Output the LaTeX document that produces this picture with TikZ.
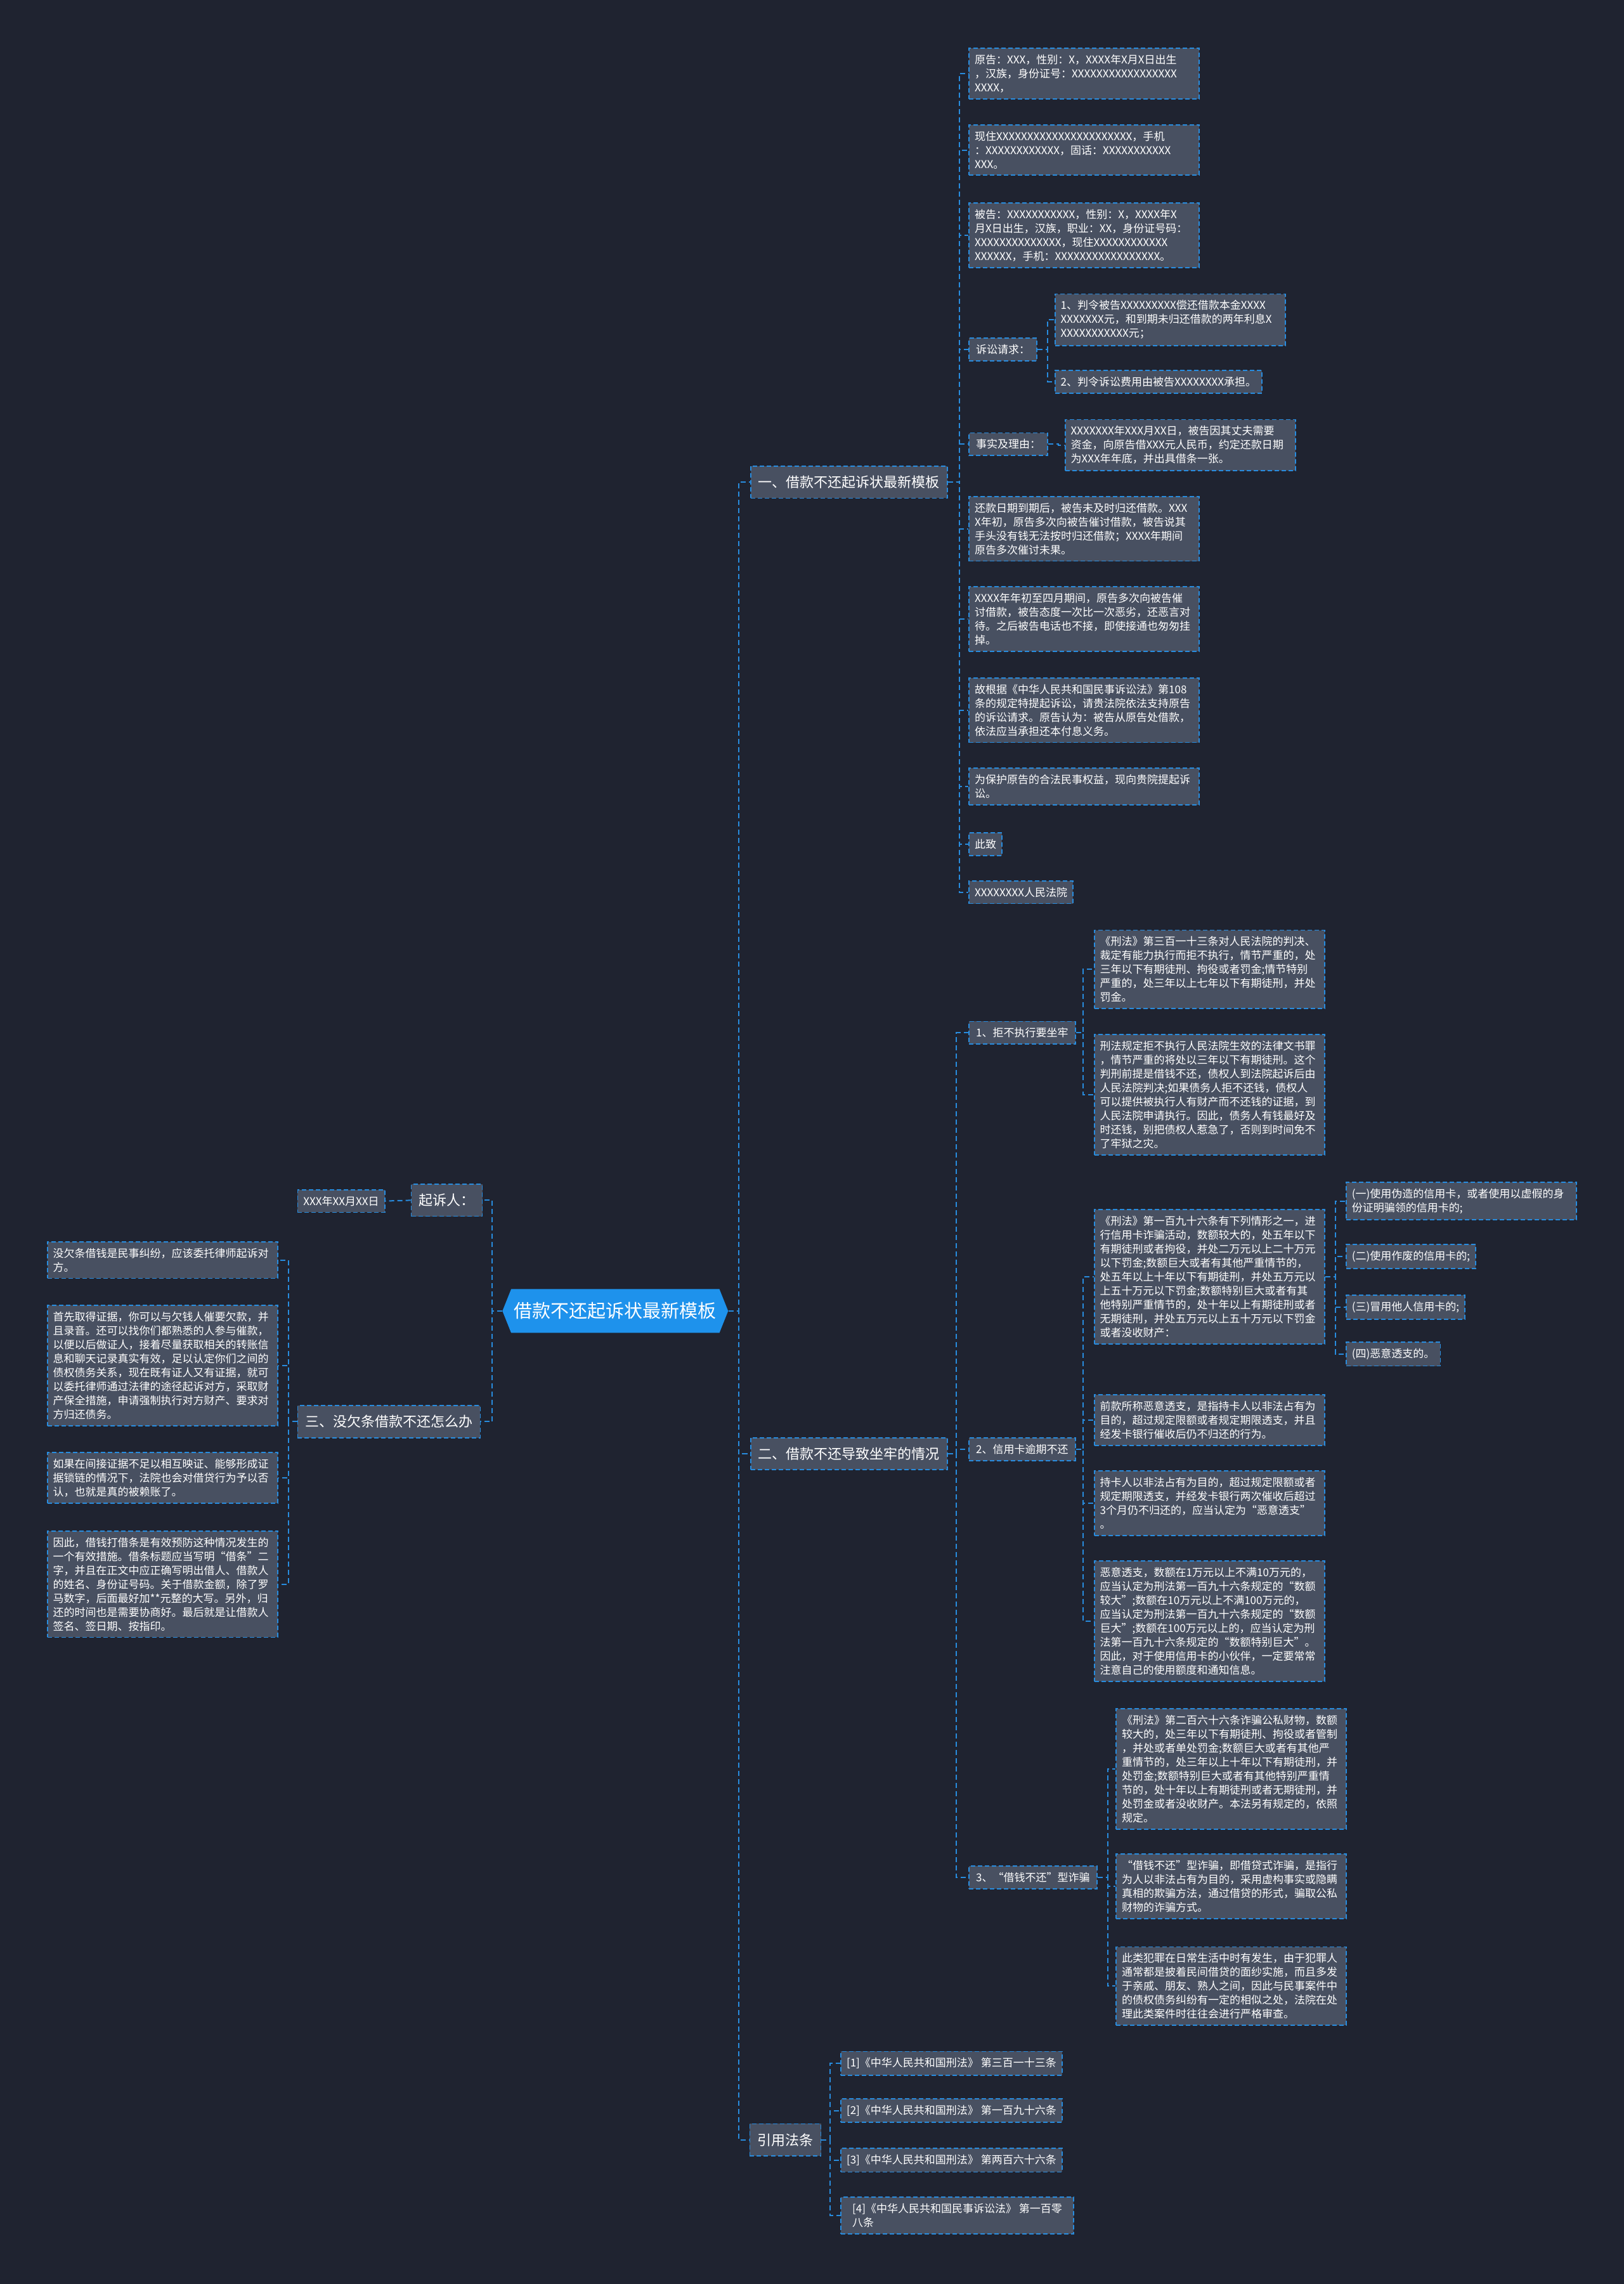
\documentclass[tikz,border=0pt]{standalone}
\usepackage{fontspec}
\setmainfont{Noto Sans CJK SC}
\usetikzlibrary{calc}
\definecolor{bgc}{RGB}{31,35,48}
\definecolor{boxc}{RGB}{72,80,97}
\definecolor{linec}{RGB}{40,140,222}
\definecolor{rootc}{RGB}{30,146,236}
\newcommand\myfs[2]{\fontsize{#1pt}{#2pt}\selectfont}
\tikzset{
  base/.style={draw=linec, line width=1.8pt, dash pattern=on 7pt off 4pt, fill=boxc, text=white, inner xsep=9pt, inner ysep=10pt, align=left},
  leaf/.style={base, anchor=west, font=\myfs{17}{22}, text width=345pt},
  lleaf/.style={leaf, anchor=east},
  sleaf/.style={base, anchor=west, font=\myfs{17}{22}},
  lvtwo/.style={base, anchor=west, font=\myfs{17}{22}, inner xsep=11pt},
  lvone/.style={base, anchor=west, font=\myfs{22}{26}, inner xsep=12pt, inner ysep=15pt},
  conn/.style={draw=linec, line width=2pt, dash pattern=on 8pt off 5pt},
}
\begin{document}
\begin{tikzpicture}[x=2.296pt,y=-2.296pt]
\useasboundingbox (0,0) rectangle (1115,1568);
\fill[bgc] (0,0) rectangle (1115,1568);

% root
\fill[rootc] (345,900) -- (351,885) -- (494,885) -- (500,900) -- (494,915) -- (351,915) -- cycle;
\node[text=white, font=\myfs{29}{32}, minimum width=355.9pt, minimum height=68.9pt, inner sep=0pt] (root) at (422.5,900) {借款不还起诉状最新模板};

% left side
\node[lvone] (qs) at (282,824) {起诉人：};
\node[sleaf] (date) at (204,824.5) {XXX年XX月XX日};
\node[lvone] (san) at (204,976) {三、没欠条借款不还怎么办};
\node[lleaf] (l1) at (191,865) {没欠条借钱是民事纠纷，应该委托律师起诉对\\方。};
\node[lleaf] (l2) at (191,937.5) {首先取得证据，你可以与欠钱人催要欠款，并\\且录音。还可以找你们都熟悉的人参与催款，\\以便以后做证人，接着尽量获取相关的转账信\\息和聊天记录真实有效，足以认定你们之间的\\债权债务关系，现在既有证人又有证据，就可\\以委托律师通过法律的途径起诉对方，采取财\\产保全措施，申请强制执行对方财产、要求对\\方归还债务。};
\node[lleaf] (l3) at (191,1014.5) {如果在间接证据不足以相互映证、能够形成证\\据锁链的情况下，法院也会对借贷行为予以否\\认，也就是真的被赖账了。};
\node[lleaf] (l4) at (191,1087.5) {因此，借钱打借条是有效预防这种情况发生的\\一个有效措施。借条标题应当写明“借条”二\\字，并且在正文中应正确写明出借人、借款人\\的姓名、身份证号码。关于借款金额，除了罗\\马数字，后面最好加**元整的大写。另外，归\\还的时间也是需要协商好。最后就是让借款人\\签名、签日期、按指印。};

\draw[conn] (root.west) -- ++(-7,0) |- (qs.east);
\draw[conn] (root.west) -- ++(-7,0) |- (san.east);
\draw[conn] (qs.west) -- (date.east);
\foreach \c in {l1,l2,l3,l4} \draw[conn] (san.west) -- ++(-6,0) |- (\c.east);

% right main branches
\node[lvone] (yi) at (515,331) {一、借款不还起诉状最新模板};
\node[lvone] (er) at (515,998) {二、借款不还导致坐牢的情况};
\node[lvone] (yin) at (514.5,1469) {引用法条};
\foreach \c in {yi,er,yin} \draw[conn] (root.east) -- ++(7,0) |- (\c.west);

% branch one
\node[leaf] (a1) at (665,50.5) {原告：XXX，性别：X，XXXX年X月X日出生\\，汉族，身份证号：XXXXXXXXXXXXXXXXX\\XXXX，};
\node[leaf] (a2) at (665,103) {现住XXXXXXXXXXXXXXXXXXXXXX，手机\\：XXXXXXXXXXXX，固话：XXXXXXXXXXX\\XXX。};
\node[leaf] (a3) at (665,161.5) {被告：XXXXXXXXXXX，性别：X，XXXX年X\\月X日出生，汉族，职业：XX，身份证号码：\\XXXXXXXXXXXXXX，现住XXXXXXXXXXXX\\XXXXXX，手机：XXXXXXXXXXXXXXXXX。};
\node[lvtwo] (a4) at (665,240) {诉讼请求：};
\node[lvtwo] (a5) at (665,305) {事实及理由：};
\node[leaf] (a6) at (665,363) {还款日期到期后，被告未及时归还借款。XXX\\X年初，原告多次向被告催讨借款，被告说其\\手头没有钱无法按时归还借款；XXXX年期间\\原告多次催讨未果。};
\node[leaf] (a7) at (665,425) {XXXX年年初至四月期间，原告多次向被告催\\讨借款，被告态度一次比一次恶劣，还恶言对\\待。之后被告电话也不接，即使接通也匆匆挂\\掉。};
\node[leaf] (a8) at (665,487.5) {故根据《中华人民共和国民事诉讼法》第108\\条的规定特提起诉讼，请贵法院依法支持原告\\的诉讼请求。原告认为：被告从原告处借款，\\依法应当承担还本付息义务。};
\node[leaf] (a9) at (665,540) {为保护原告的合法民事权益，现向贵院提起诉\\讼。};
\node[sleaf] (a10) at (665,579.5) {此致};
\node[sleaf] (a11) at (665,612.5) {XXXXXXXX人民法院};
\foreach \c in {a1,a2,a3,a4,a5,a6,a7,a8,a9,a10,a11} \draw[conn] (yi.east) -- ++(8,0) |- (\c.west);

\node[leaf] (b1) at (724,219.5) {1、判令被告XXXXXXXXX偿还借款本金XXXX\\XXXXXXX元，和到期未归还借款的两年利息X\\XXXXXXXXXXX元；};
\node[sleaf] (b2) at (724,262) {2、判令诉讼费用由被告XXXXXXXX承担。};
\foreach \c in {b1,b2} \draw[conn] (a4.east) -- ++(7,0) |- (\c.west);
\node[leaf] (b3) at (731,305.5) {XXXXXXX年XXX月XX日，被告因其丈夫需要\\资金，向原告借XXX元人民币，约定还款日期\\为XXX年年底，并出具借条一张。};
\draw[conn] (a5.east) -- ++(7,0) |- (b3.west);

% branch two
\node[lvtwo] (c1) at (665,709) {1、拒不执行要坐牢};
\node[lvtwo] (c2) at (665,995) {2、信用卡逾期不还};
\node[lvtwo] (c3) at (665,1289) {3、“借钱不还”型诈骗};
\foreach \c in {c1,c2,c3} \draw[conn] (er.east) -- ++(6,0) |- (\c.west);

\node[leaf] (e1) at (751,665.5) {《刑法》第三百一十三条对人民法院的判决、\\裁定有能力执行而拒不执行，情节严重的，处\\三年以下有期徒刑、拘役或者罚金;情节特别\\严重的，处三年以上七年以下有期徒刑，并处\\罚金。};
\node[leaf] (e2) at (751,751.5) {刑法规定拒不执行人民法院生效的法律文书罪\\，情节严重的将处以三年以下有期徒刑。这个\\判刑前提是借钱不还，债权人到法院起诉后由\\人民法院判决;如果债务人拒不还钱，债权人\\可以提供被执行人有财产而不还钱的证据，到\\人民法院申请执行。因此，债务人有钱最好及\\时还钱，别把债权人惹急了，否则到时间免不\\了牢狱之灾。};
\foreach \c in {e1,e2} \draw[conn] (c1.east) -- ++(5,0) |- (\c.west);

\node[leaf] (d1) at (751,876.5) {《刑法》第一百九十六条有下列情形之一，进\\行信用卡诈骗活动，数额较大的，处五年以下\\有期徒刑或者拘役，并处二万元以上二十万元\\以下罚金;数额巨大或者有其他严重情节的，\\处五年以上十年以下有期徒刑，并处五万元以\\上五十万元以下罚金;数额特别巨大或者有其\\他特别严重情节的，处十年以上有期徒刑或者\\无期徒刑，并处五万元以上五十万元以下罚金\\或者没收财产：};
\node[leaf] (d2) at (751,975) {前款所称恶意透支，是指持卡人以非法占有为\\目的，超过规定限额或者规定期限透支，并且\\经发卡银行催收后仍不归还的行为。};
\node[leaf] (d3) at (751,1032) {持卡人以非法占有为目的，超过规定限额或者\\规定期限透支，并经发卡银行两次催收后超过\\3个月仍不归还的，应当认定为“恶意透支”\\。};
\node[leaf] (d4) at (751,1113) {恶意透支，数额在1万元以上不满10万元的，\\应当认定为刑法第一百九十六条规定的“数额\\较大”;数额在10万元以上不满100万元的，\\应当认定为刑法第一百九十六条规定的“数额\\巨大”;数额在100万元以上的，应当认定为刑\\法第一百九十六条规定的“数额特别巨大”。\\因此，对于使用信用卡的小伙伴，一定要常常\\注意自己的使用额度和通知信息。};
\foreach \c in {d1,d2,d3,d4} \draw[conn] (c2.east) -- ++(5,0) |- (\c.west);

\node[leaf, text width=345pt] (f1) at (924,824.5) {(一)使用伪造的信用卡，或者使用以虚假的身\\份证明骗领的信用卡的;};
\node[sleaf] (f2) at (924,862.5) {(二)使用作废的信用卡的;};
\node[sleaf] (f3) at (924,897.5) {(三)冒用他人信用卡的;};
\node[sleaf] (f4) at (924,929.5) {(四)恶意透支的。};
\foreach \c in {f1,f2,f3,f4} \draw[conn] (d1.east) -- ++(7,0) |- (\c.west);

\node[leaf] (g1) at (766,1214.5) {《刑法》第二百六十六条诈骗公私财物，数额\\较大的，处三年以下有期徒刑、拘役或者管制\\，并处或者单处罚金;数额巨大或者有其他严\\重情节的，处三年以上十年以下有期徒刑，并\\处罚金;数额特别巨大或者有其他特别严重情\\节的，处十年以上有期徒刑或者无期徒刑，并\\处罚金或者没收财产。本法另有规定的，依照\\规定。};
\node[leaf] (g2) at (766,1295) {“借钱不还”型诈骗，即借贷式诈骗，是指行\\为人以非法占有为目的，采用虚构事实或隐瞒\\真相的欺骗方法，通过借贷的形式，骗取公私\\财物的诈骗方式。};
\node[leaf] (g3) at (766,1363.5) {此类犯罪在日常生活中时有发生，由于犯罪人\\通常都是披着民间借贷的面纱实施，而且多发\\于亲戚、朋友、熟人之间，因此与民事案件中\\的债权债务纠纷有一定的相似之处，法院在处\\理此类案件时往往会进行严格审查。};
\foreach \c in {g1,g2,g3} \draw[conn] (c3.east) -- ++(7,0) |- (\c.west);

% branch cited laws
\node[sleaf] (h1) at (577,1416.5) {[1]《中华人民共和国刑法》 第三百一十三条};
\node[sleaf] (h2) at (577,1449) {[2]《中华人民共和国刑法》 第一百九十六条};
\node[sleaf] (h3) at (577,1483) {[3]《中华人民共和国刑法》 第两百六十六条};
\node[sleaf, minimum width=367pt] (h4) at (577,1521) {[4]《中华人民共和国民事诉讼法》 第一百零\\八条};
\foreach \c in {h1,h2,h3,h4} \draw[conn] (yin.east) -- ++(6,0) |- (\c.west);
\end{tikzpicture}
\end{document}
